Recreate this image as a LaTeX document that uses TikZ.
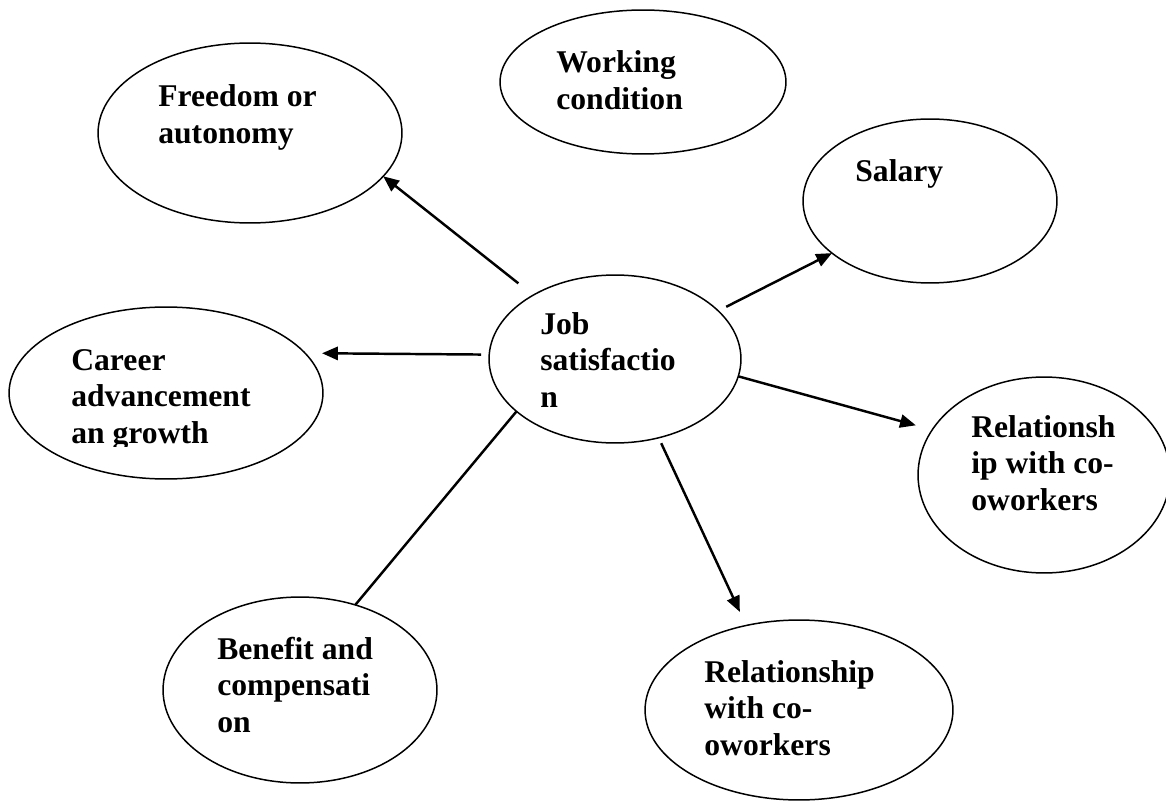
\documentclass[tikz,border=0pt]{standalone}
\usepackage{fontspec}
\setmainfont{Liberation Serif}
\usetikzlibrary{shapes.geometric,arrows.meta}
\begin{document}
\begin{tikzpicture}[x=0.02cm,y=-0.02cm,
  bubble/.style n args={2}{ellipse, draw, line width=0.85pt, inner sep=0pt,
    outer sep=0pt, minimum width={#1*0.04cm}, minimum height={#2*0.04cm}},
  lbl/.style={anchor=base west, inner sep=0pt,
    font=\fontsize{18}{20.8}\selectfont\bfseries},
  link/.style={line width=1.4pt},
  arr/.style={link, -{Triangle[length=9pt,width=7.5pt]}}]
\useasboundingbox (0,0) rectangle (1166,804);

% bubbles: centre, half-width, half-height in px units
\node[bubble={152}{90}] (freedom)   at (250,133) {};
\node[bubble={143}{72}] (working)   at (643,82)  {};
\node[bubble={127}{82}] (salary)    at (930,201) {};
\node[bubble={126}{84}] (job)       at (615,359) {};
\node[bubble={157}{86}] (career)    at (166,393) {};
\node[bubble={126}{98}] (relright)  at (1044,475) {};
\node[bubble={137}{93}] (benefit)   at (300,690) {};
\node[bubble={154}{90}] (relbottom) at (799,710) {};

% labels, top-left aligned like text frames
\node[lbl] (t-freedom) at (158,107) {\begin{tabular}[t]{@{}l@{}}Freedom or\\autonomy\end{tabular}};
\node[lbl] (t-working) at (556,73) {\begin{tabular}[t]{@{}l@{}}Working\\condition\end{tabular}};
\node[lbl] (t-salary) at (855,182) {Salary};
\node[lbl] (t-job) at (540,334) {\begin{tabular}[t]{@{}l@{}}Job\\satisfactio\\n\end{tabular}};
\begin{scope}
  \clip (0,0) rectangle (340,446);
  \node[lbl] (t-career) at (71,370) {\begin{tabular}[t]{@{}l@{}}Career\\advancement\\an growth\end{tabular}};
\end{scope}
\node[lbl] (t-relright) at (971,437) {\begin{tabular}[t]{@{}l@{}}Relationsh\\ip with co-\\oworkers\end{tabular}};
\node[lbl] (t-benefit) at (217,659) {\begin{tabular}[t]{@{}l@{}}Benefit and\\compensati\\on\end{tabular}};
\node[lbl] (t-relbottom) at (704,682) {\begin{tabular}[t]{@{}l@{}}Relationship\\with co-\\oworkers\end{tabular}};

% connectors from the centre bubble
\draw[arr, shorten <=0.38cm] (job.142) -- (freedom.-18);
\draw[arr, shorten <=0.18cm] (job.25) -- (salary.208);
\draw[arr, shorten <=0.16cm, shorten >=0.34cm] (job.178) -- (career.16);
\draw[arr, shorten >=0.34cm] (job.-8) -- (relright.158);
\draw[arr, shorten <=0.12cm, shorten >=0.30cm] (job.-61) -- (relbottom.122);
\draw[link] (job.208) -- (benefit.57);
\end{tikzpicture}
\end{document}
